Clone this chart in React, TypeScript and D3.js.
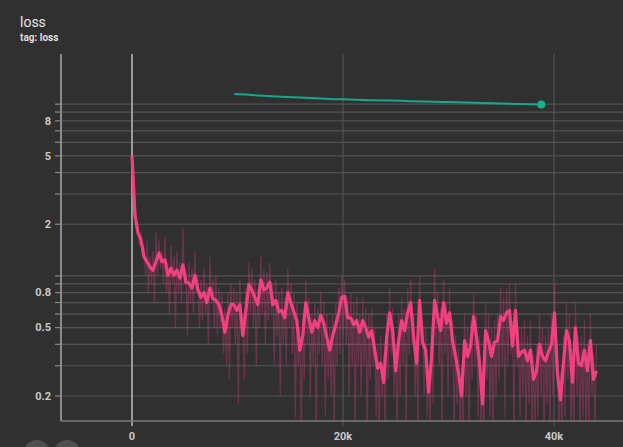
import React, { useRef, useEffect } from 'react';
import * as d3 from 'd3';

// smoothed loss, one point every 284 steps
const smoothed = [
  5.0, 2.26, 1.78, 1.62, 1.29, 1.21, 1.13, 1.08, 1.21, 1.36,
  1.21, 1.24, 1.01, 1.11, 1.01, 1.08, 0.97, 1.16, 0.92, 0.91,
  0.85, 1.01, 0.83, 0.75, 0.80, 0.70, 0.85, 0.74, 0.72, 0.68,
  0.59, 0.47, 0.59, 0.68, 0.68, 0.63, 0.68, 0.45, 0.63, 0.89,
  0.83, 0.75, 0.68, 0.95, 0.83, 0.85, 0.92, 0.68, 0.72, 0.62,
  0.63, 0.57, 0.80, 0.70, 0.62, 0.55, 0.37, 0.45, 0.70, 0.57,
  0.47, 0.55, 0.50, 0.59, 0.53, 0.44, 0.37, 0.45, 0.52, 0.61,
  0.75, 0.76, 0.57, 0.57, 0.52, 0.55, 0.47, 0.55, 0.50, 0.44,
  0.48, 0.37, 0.29, 0.31, 0.24, 0.44, 0.61, 0.48, 0.28, 0.42,
  0.55, 0.48, 0.61, 0.70, 0.44, 0.31, 0.72, 0.41, 0.37, 0.21,
  0.34, 0.72, 0.58, 0.48, 0.70, 0.53, 0.61, 0.42, 0.34, 0.27,
  0.20, 0.42, 0.34, 0.39, 0.58, 0.44, 0.31, 0.18, 0.48, 0.42,
  0.34, 0.41, 0.42, 0.58, 0.55, 0.61, 0.63, 0.39, 0.63, 0.34,
  0.36, 0.37, 0.32, 0.37, 0.25, 0.28, 0.40, 0.34, 0.32, 0.36,
  0.40, 0.61, 0.27, 0.19, 0.31, 0.48, 0.42, 0.24, 0.50, 0.31,
  0.30, 0.37, 0.28, 0.42, 0.25, 0.28
];
const smoothInterval = 284;

// raw loss, one point every 142 steps
const raw = [
  5.0, 3.4, 2.5, 2.0, 1.9, 1.5, 1.8, 1.3, 1.5, 1.0,
  1.6, 0.8, 1.3, 0.9, 1.4, 0.7, 1.8, 1.0, 1.6, 1.1,
  1.4, 0.9, 1.7, 0.8, 1.2, 0.6, 1.5, 0.9, 1.3, 0.5,
  1.4, 0.8, 1.2, 0.7, 1.9, 0.9, 1.1, 0.45, 1.2, 0.7,
  1.1, 0.6, 1.4, 0.8, 1.0, 0.5, 0.95, 0.55, 1.1, 0.6,
  0.9, 0.4, 1.3, 0.7, 0.95, 0.5, 1.0, 0.45, 0.85, 0.5,
  0.8, 0.35, 0.65, 0.3, 0.8, 0.25, 0.9, 0.5, 0.85, 0.4,
  0.8, 0.18, 0.95, 0.45, 0.6, 0.25, 0.85, 0.35, 1.2, 0.6,
  1.1, 0.5, 0.95, 0.3, 0.85, 0.5, 1.3, 0.6, 1.1, 0.4,
  1.05, 0.55, 1.2, 0.6, 0.9, 0.3, 0.95, 0.45, 0.8, 0.2,
  0.85, 0.4, 0.75, 0.3, 1.1, 0.5, 0.9, 0.35, 0.8, 0.15,
  0.7, 0.3, 0.5, 0.12, 0.6, 0.25, 0.95, 0.4, 0.75, 0.2,
  0.6, 0.3, 0.7, 0.12, 0.65, 0.35, 0.8, 0.3, 0.7, 0.15,
  0.6, 0.25, 0.5, 0.2, 0.6, 0.12, 0.7, 0.3, 0.85, 0.35,
  1.0, 0.45, 0.95, 0.4, 0.75, 0.2, 0.8, 0.3, 0.7, 0.12,
  0.75, 0.3, 0.6, 0.2, 0.75, 0.3, 0.65, 0.12, 0.6, 0.25,
  0.65, 0.3, 0.5, 0.15, 0.4, 0.12, 0.45, 0.2, 0.35, 0.12,
  0.6, 0.25, 0.85, 0.35, 0.65, 0.2, 0.4, 0.12, 0.6, 0.2,
  0.75, 0.3, 0.65, 0.12, 0.85, 0.35, 0.95, 0.4, 0.6, 0.2,
  0.45, 0.12, 1.0, 0.4, 0.55, 0.2, 0.5, 0.15, 0.3, 0.12,
  0.5, 0.18, 1.1, 0.4, 0.8, 0.3, 0.65, 0.12, 0.95, 0.35,
  0.7, 0.2, 0.85, 0.3, 0.55, 0.12, 0.45, 0.18, 0.38, 0.12,
  0.3, 0.12, 0.6, 0.2, 0.5, 0.12, 0.55, 0.25, 0.8, 0.3,
  0.6, 0.15, 0.45, 0.12, 0.28, 0.12, 0.7, 0.25, 0.6, 0.15,
  0.5, 0.12, 0.55, 0.2, 0.6, 0.25, 0.85, 0.3, 0.75, 0.15,
  0.85, 0.3, 0.9, 0.35, 0.55, 0.12, 0.9, 0.3, 0.5, 0.15,
  0.5, 0.2, 0.55, 0.12, 0.45, 0.18, 0.55, 0.12, 0.35, 0.12,
  0.4, 0.15, 0.6, 0.2, 0.5, 0.12, 0.45, 0.18, 0.5, 0.12,
  0.6, 0.2, 0.9, 0.3, 0.4, 0.12, 0.28, 0.12, 0.45, 0.15,
  0.7, 0.25, 0.6, 0.12, 0.35, 0.12, 0.7, 0.2, 0.45, 0.12,
  0.45, 0.15, 0.55, 0.12, 0.4, 0.12, 0.6, 0.2, 0.35, 0.12,
  0.4
];
const rawInterval = 142;

// second run (teal)
const tealSteps = [9700, 20000, 30000, 38800];
const tealValues = [11.45, 10.67, 10.29, 9.95];

const gridValues = [
  0.2, 0.3, 0.4, 0.5, 0.6, 0.7, 0.8, 0.9,
  1, 2, 3, 4, 5, 6, 7, 8, 9, 10
];
const yLabels = [0.2, 0.5, 0.8, 2, 5, 8];
const xTicks = [0, 20000, 40000];
const xTickLabels = ['0', '20k', '40k'];

const W = 623;
const H = 447;

const LossChart = () => {
  const ref = useRef(null);

  useEffect(() => {
    const svg = d3.select(ref.current);
    svg.selectAll('*').remove();

    const left = 61, right = 623, top = 54, bottom = 421;

    const x = d3.scaleLinear().domain([-6730, 46540]).range([left, right]);
    const y = d3.scaleLog().domain([0.143, 19.6]).range([bottom, top]);

    svg.append('rect')
      .attr('width', W).attr('height', H)
      .attr('fill', '#303030');

    // title
    svg.append('text')
      .attr('x', 20).attr('y', 27)
      .attr('fill', '#e6e6e6')
      .style('font-family', 'Roboto, sans-serif')
      .style('font-size', '14px')
      .text('loss');
    svg.append('text')
      .attr('x', 20).attr('y', 41)
      .attr('fill', '#dddddd')
      .style('font-family', 'Roboto, sans-serif')
      .style('font-size', '10px')
      .style('font-weight', 'bold')
      .text('tag: loss');

    // horizontal grid + ticks
    const grid = svg.append('g');
    grid.selectAll('line.h')
      .data(gridValues)
      .join('line')
      .attr('x1', left).attr('x2', right)
      .attr('y1', d => y(d)).attr('y2', d => y(d))
      .attr('stroke', '#535353')
      .attr('stroke-width', 1.2);
    grid.selectAll('line.t')
      .data(gridValues)
      .join('line')
      .attr('x1', left - 6).attr('x2', left)
      .attr('y1', d => y(d)).attr('y2', d => y(d))
      .attr('stroke', '#8a8a8a')
      .attr('stroke-width', 1.2);
    grid.selectAll('text')
      .data(yLabels)
      .join('text')
      .attr('x', left - 10)
      .attr('y', d => y(d))
      .attr('dy', '0.35em')
      .attr('text-anchor', 'end')
      .attr('fill', '#c8c8c8')
      .style('font-family', 'Roboto, sans-serif')
      .style('font-size', '11px')
      .style('font-weight', 'bold')
      .text(d => d3.format('~g')(d));

    // vertical grid
    svg.selectAll('line.v')
      .data(xTicks)
      .join('line')
      .attr('x1', d => x(d)).attr('x2', d => x(d))
      .attr('y1', top).attr('y2', bottom + 5)
      .attr('stroke', d => d === 0 ? '#9a9a9a' : '#535353')
      .attr('stroke-width', d => d === 0 ? 2 : 1.2);
    svg.selectAll('text.xl')
      .data(xTicks)
      .join('text')
      .attr('x', d => x(d))
      .attr('y', 440)
      .attr('text-anchor', 'middle')
      .attr('fill', '#c8c8c8')
      .style('font-family', 'Roboto, sans-serif')
      .style('font-size', '11px')
      .style('font-weight', 'bold')
      .text((d, i) => xTickLabels[i]);

    // axes
    svg.append('line')
      .attr('x1', left).attr('x2', left)
      .attr('y1', top).attr('y2', bottom)
      .attr('stroke', '#8a8a8a').attr('stroke-width', 2);
    svg.append('line')
      .attr('x1', left).attr('x2', right)
      .attr('y1', bottom).attr('y2', bottom)
      .attr('stroke', '#7a7a7a').attr('stroke-width', 1.5);

    // clip for data
    svg.append('clipPath').attr('id', 'plot-clip')
      .append('rect')
      .attr('x', left).attr('y', top)
      .attr('width', right - left).attr('height', bottom - top);

    const plot = svg.append('g').attr('clip-path', 'url(#plot-clip)');

    const line = d3.line()
      .x(d => x(d[0]))
      .y(d => y(Math.max(d[1], 0.1)));

    plot.append('path')
      .datum(raw.map((v, i) => [i * rawInterval, v]))
      .attr('d', line)
      .attr('fill', 'none')
      .attr('stroke', '#f0407f')
      .attr('stroke-opacity', 0.3)
      .attr('stroke-width', 1.3);

    plot.append('path')
      .datum(smoothed.map((v, i) => [i * smoothInterval, v]))
      .attr('d', line)
      .attr('fill', 'none')
      .attr('stroke', '#f2407f')
      .attr('stroke-width', 3.2)
      .attr('stroke-linejoin', 'round');

    const teal = tealSteps.map((s, i) => [s, tealValues[i]]);
    plot.append('path')
      .datum(teal)
      .attr('d', line.curve(d3.curveMonotoneX))
      .attr('fill', 'none')
      .attr('stroke', '#16a88c')
      .attr('stroke-width', 2);
    plot.append('circle')
      .attr('cx', x(teal[teal.length - 1][0]))
      .attr('cy', y(teal[teal.length - 1][1]))
      .attr('r', 4)
      .attr('fill', '#16b08f');

    // buttons peeking at the bottom
    svg.selectAll('circle.btn')
      .data([37, 67])
      .join('circle')
      .attr('cx', d => d).attr('cy', 453)
      .attr('r', 13)
      .attr('fill', '#505050');
  }, []);

  return (
    <svg ref={ref} width={W} height={H}
      style={{ position: 'fixed', left: 0, top: 0, display: 'block' }} />
  );
};

export default function App() {
  return <LossChart />;
}
